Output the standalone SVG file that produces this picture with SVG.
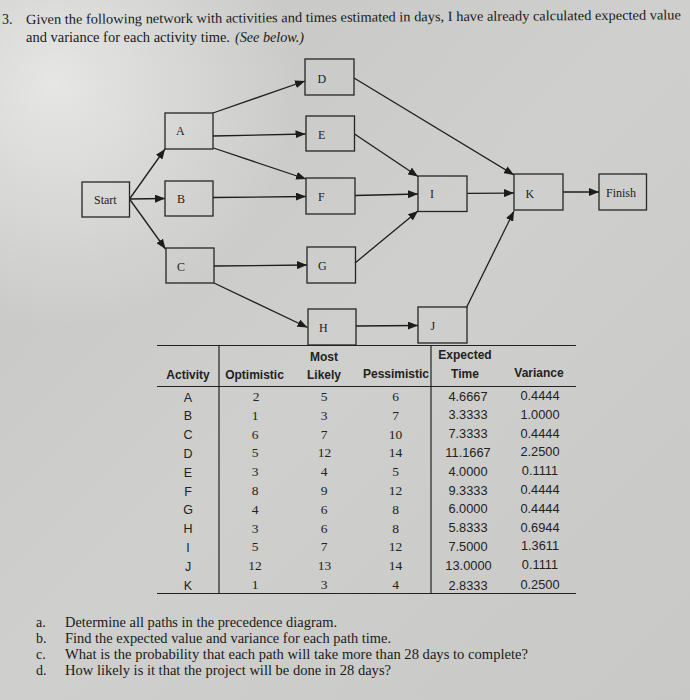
<svg xmlns="http://www.w3.org/2000/svg" width="690" height="700" viewBox="0 0 690 700">
<defs>
  <radialGradient id="glow" cx="0.08" cy="0.12" r="0.35">
    <stop offset="0" stop-color="#ffffff" stop-opacity="0.55"/>
    <stop offset="1" stop-color="#ffffff" stop-opacity="0"/>
  </radialGradient>
  <linearGradient id="bg" x1="0" y1="0" x2="1" y2="1">
    <stop offset="0" stop-color="#c6c6c4"/>
    <stop offset="0.5" stop-color="#cfcfcd"/>
    <stop offset="1" stop-color="#c8c8c6"/>
  </linearGradient>
  <marker id="arr" markerUnits="userSpaceOnUse" markerWidth="10" markerHeight="8" refX="10" refY="4" orient="auto">
    <path d="M0,0 L10,4 L0,8 z" fill="#1c1c1c"/>
  </marker>
  <style>
    .box{fill:none;stroke:#262626;stroke-width:1.3}
    .lbl{font-family:"Liberation Serif","Times New Roman",serif;font-size:12px;fill:#222}
    .edge{fill:none;stroke:#1e1e1e;stroke-width:1.3;marker-end:url(#arr)}
    .prose{font-family:"Liberation Serif","Times New Roman",serif;font-size:14px;fill:#1a1a1a}
    .hd{font-family:"Liberation Sans",Arial,sans-serif;font-size:12px;font-weight:bold;fill:#222;text-anchor:middle}
    .act{font-family:"Liberation Sans",Arial,sans-serif;font-size:12.5px;fill:#222;text-anchor:middle}
    .num{font-family:"Liberation Serif","Times New Roman",serif;font-size:13.5px;fill:#222;text-anchor:middle}
    .dec{font-family:"Liberation Sans",Arial,sans-serif;font-size:12.8px;fill:#222;text-anchor:middle}
    .tl{stroke:#222;stroke-width:1.2;fill:none}
  </style>
</defs>
<rect width="690" height="700" fill="url(#bg)"/>
<rect width="690" height="700" fill="url(#glow)"/>

<!-- top text -->
<g id="intro">
  <text class="prose" x="2" y="24">3.</text>
  <text class="prose" x="26" y="24" textLength="655" lengthAdjust="spacingAndGlyphs" transform="rotate(-0.4 26 24)">Given the following network with activities and times estimated in days, I have already calculated expected value</text>
  <text class="prose" x="26" y="42" textLength="204" lengthAdjust="spacingAndGlyphs">and variance for each activity time.</text>
  <text class="prose" x="235" y="41.5" font-style="italic" textLength="69" lengthAdjust="spacingAndGlyphs">(See below.)</text>
</g>

<!-- connectors -->
<g id="connectors">
  <line class="edge" x1="129.5" y1="199" x2="165" y2="149"/>
  <line class="edge" x1="129.5" y1="199" x2="165" y2="198.5"/>
  <line class="edge" x1="129.5" y1="199" x2="165.5" y2="249"/>
  <line class="edge" x1="213" y1="113" x2="305" y2="81"/>
  <line class="edge" x1="213" y1="136" x2="305.5" y2="134"/>
  <line class="edge" x1="213.5" y1="148" x2="306" y2="179"/>
  <line class="edge" x1="213" y1="197.5" x2="306" y2="196.5"/>
  <line class="edge" x1="214" y1="266" x2="307" y2="265"/>
  <line class="edge" x1="214" y1="283" x2="307.5" y2="327.5"/>
  <line class="edge" x1="354" y1="78" x2="514" y2="175"/>
  <line class="edge" x1="354.5" y1="134" x2="418" y2="176.5"/>
  <line class="edge" x1="355" y1="195.5" x2="418" y2="194"/>
  <line class="edge" x1="355" y1="263" x2="418" y2="211"/>
  <line class="edge" x1="356" y1="326" x2="418" y2="325.5"/>
  <line class="edge" x1="467" y1="193.3" x2="514" y2="193"/>
  <line class="edge" x1="466.5" y1="307.5" x2="514" y2="211"/>
  <line class="edge" x1="563" y1="192" x2="599" y2="192"/>
</g>

<!-- nodes -->
<g id="node-start"><rect class="box" x="82" y="182" width="47.5" height="35"/><text class="lbl" x="94" y="204">Start</text></g>
<g id="node-A"><rect class="box" x="165" y="113" width="48" height="36"/><text class="lbl" x="176" y="135">A</text></g>
<g id="node-B"><rect class="box" x="165" y="181" width="48" height="35"/><text class="lbl" x="177" y="203">B</text></g>
<g id="node-C"><rect class="box" x="166" y="248" width="48" height="35"/><text class="lbl" x="177" y="271">C</text></g>
<g id="node-D"><rect class="box" x="305" y="59" width="49" height="36"/><text class="lbl" x="317.5" y="83">D</text></g>
<g id="node-E"><rect class="box" x="306" y="116" width="48.5" height="35"/><text class="lbl" x="318" y="139">E</text></g>
<g id="node-F"><rect class="box" x="306" y="178" width="49" height="36"/><text class="lbl" x="318" y="201">F</text></g>
<g id="node-G"><rect class="box" x="307" y="247" width="48.5" height="36"/><text class="lbl" x="318" y="270">G</text></g>
<g id="node-H"><rect class="box" x="308" y="309" width="48" height="36"/><text class="lbl" x="319" y="331.5">H</text></g>
<g id="node-I"><rect class="box" x="418" y="176" width="49" height="35.5"/><text class="lbl" x="430" y="197.5">I</text></g>
<g id="node-J"><rect class="box" x="418" y="307" width="49" height="36"/><text class="lbl" x="430.5" y="330">J</text></g>
<g id="node-K"><rect class="box" x="514" y="174" width="49" height="36"/><text class="lbl" x="525.5" y="197.5">K</text></g>
<g id="node-finish"><rect class="box" x="599" y="174" width="47.5" height="36"/><text class="lbl" x="606" y="196.5">Finish</text></g>

<!-- table -->
<g id="table">
  <line class="tl" x1="157" y1="345.5" x2="576" y2="345.5"/>
  <line class="tl" x1="157" y1="386.5" x2="576" y2="386.5" stroke-width="2.6"/>
  <line class="tl" x1="157" y1="593.5" x2="576" y2="593.5" stroke-width="1.5"/>
  <line class="tl" x1="219" y1="345.5" x2="219" y2="593.5"/>
  <line class="tl" x1="431" y1="345.5" x2="431" y2="593.5"/>

  <text class="hd" x="324" y="361">Most</text>
  <text class="hd" x="465" y="358.5">Expected</text>
  <text class="hd" x="188" y="379">Activity</text>
  <text class="hd" x="254.5" y="379">Optimistic</text>
  <text class="hd" x="324" y="378.5">Likely</text>
  <text class="hd" x="396" y="378">Pessimistic</text>
  <text class="hd" x="465" y="377.5">Time</text>
  <text class="hd" x="539" y="377">Variance</text>

  <g class="act">
    <text x="188" y="401.5">A</text><text x="188" y="420.3">B</text><text x="188" y="439.1">C</text><text x="188" y="457.9">D</text>
    <text x="188" y="476.7">E</text><text x="188" y="495.5">F</text><text x="188" y="514.3">G</text><text x="188" y="533.1">H</text>
    <text x="188" y="551.9">I</text><text x="188" y="570.7">J</text><text x="188" y="589.5">K</text>
  </g>
  <g class="num">
    <text x="256" y="401">2</text><text x="255" y="419.8">1</text><text x="255" y="438.6">6</text><text x="255" y="457.4">5</text>
    <text x="255" y="476.2">3</text><text x="255" y="495">8</text><text x="255" y="513.8">4</text><text x="255" y="532.6">3</text>
    <text x="255" y="551.4">5</text><text x="255" y="570.2">12</text><text x="255" y="589">1</text>
  </g>
  <g class="num">
    <text x="324" y="401">5</text><text x="324" y="419.8">3</text><text x="324" y="438.6">7</text><text x="324.5" y="457.4">12</text>
    <text x="324" y="476.2">4</text><text x="324" y="495">9</text><text x="324" y="513.8">6</text><text x="324" y="532.6">6</text>
    <text x="324" y="551.4">7</text><text x="324.5" y="570.2">13</text><text x="324" y="589">3</text>
  </g>
  <g class="num">
    <text x="395.5" y="401">6</text><text x="395.5" y="419.8">7</text><text x="395.5" y="438.6">10</text><text x="395.5" y="457.4">14</text>
    <text x="395.5" y="476.2">5</text><text x="395.5" y="495">12</text><text x="395.5" y="513.8">8</text><text x="395.5" y="532.6">8</text>
    <text x="395.5" y="551.4">12</text><text x="395.5" y="570.2">14</text><text x="395.5" y="589">4</text>
  </g>
  <g class="dec">
    <text x="468" y="400.5">4.6667</text><text x="468" y="419.3">3.3333</text><text x="468" y="438.1">7.3333</text><text x="468" y="456.9">11.1667</text>
    <text x="468" y="475.7">4.0000</text><text x="468" y="494.5">9.3333</text><text x="468" y="513.3">6.0000</text><text x="468" y="532.1">5.8333</text>
    <text x="468" y="550.9">7.5000</text><text x="468.5" y="569.7">13.0000</text><text x="468" y="589.5">2.8333</text>
  </g>
  <g class="dec">
    <text x="540" y="400">0.4444</text><text x="540" y="418.8">1.0000</text><text x="540" y="437.6">0.4444</text><text x="540" y="456.4">2.2500</text>
    <text x="540" y="475.2">0.1111</text><text x="540" y="494">0.4444</text><text x="540" y="512.8">0.4444</text><text x="540" y="531.6">0.6944</text>
    <text x="540" y="550.4">1.3611</text><text x="540" y="569.2">0.1111</text><text x="540" y="589">0.2500</text>
  </g>
</g>

<!-- questions -->
<g id="questions">
  <text class="prose" x="36" y="627">a.</text>
  <text class="prose" x="65" y="627" textLength="272" lengthAdjust="spacingAndGlyphs">Determine all paths in the precedence diagram.</text>
  <text class="prose" x="36" y="643">b.</text>
  <text class="prose" x="65" y="643" textLength="326" lengthAdjust="spacingAndGlyphs">Find the expected value and variance for each path time.</text>
  <text class="prose" x="36" y="659">c.</text>
  <text class="prose" x="65" y="659" textLength="463" lengthAdjust="spacingAndGlyphs">What is the probability that each path will take more than 28 days to complete?</text>
  <text class="prose" x="36" y="675">d.</text>
  <text class="prose" x="65" y="675" textLength="326" lengthAdjust="spacingAndGlyphs">How likely is it that the project will be done in 28 days?</text>
</g>
</svg>
